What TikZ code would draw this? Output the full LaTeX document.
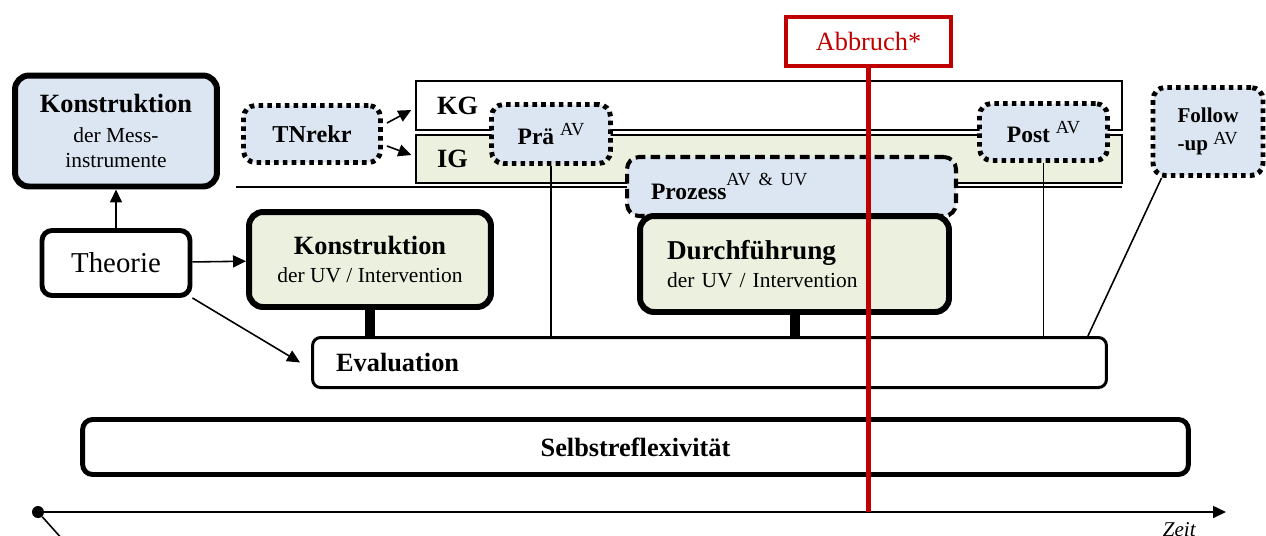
\documentclass[tikz,border=0pt]{standalone}
\usepackage{fontspec}
\setmainfont{Liberation Serif}
\usepackage{tikz}
\usetikzlibrary{positioning,arrows.meta,calc}

\definecolor{kastenblau}{HTML}{DCE6F2}
\definecolor{kastengruen}{HTML}{EBF1DE}
\definecolor{abbruchrot}{HTML}{C00000}

\newcommand{\titel}[1]{{\fontsize{15}{17}\selectfont\bfseries #1}}
\newcommand{\hoch}[2][5pt]{\raisebox{#1}{\normalfont\fontsize{10.5}{12}\selectfont #2}}

\begin{document}
\begin{tikzpicture}[x=0.02cm, y=-0.02cm,
  box/.style={draw, rounded corners=0.2cm, inner sep=0pt, align=center, font=\fontsize{12.2}{14}\selectfont},
  dick/.style={box, line width=3.4pt, rounded corners=0.28cm},
  punktiert/.style={box, fill=kastenblau, line width=2.8pt, rounded corners=0.24cm, dash pattern=on 2.6pt off 2.4pt, font=\fontsize{13.4}{15}\selectfont\bfseries},
  gestrichelt/.style={box, fill=kastenblau, line width=2.3pt, rounded corners=0.24cm, dash pattern=on 5.5pt off 3pt, font=\fontsize{13.4}{15}\selectfont\bfseries},
  gruppe/.style={draw, line width=0.9pt, inner ysep=0pt, inner xsep=0.42cm, text width=13.28cm, align=left, font=\fontsize{15}{17}\selectfont\bfseries},
  faden/.style={line width=0.9pt},
  steg/.style={line width=5.7pt},
  ar/.style={-{Triangle[length=2.6mm,width=2.4mm]}, line width=0.9pt}]

  \useasboundingbox (0,0) rectangle (1266,535);

  % Gruppen KG / IG
  \node[gruppe, minimum height=0.98cm] (kg) at (769,105.5) {KG};
  \node[gruppe, fill=kastengruen, minimum height=0.96cm] (ig) at (769,159) {IG};
  \draw[faden] (236,187) -- (1122,187);

  % Evaluation und Selbstreflexivitaet
  \node[box, line width=1.7pt, rounded corners=0.16cm, align=left, inner xsep=0.47cm, text width=14.94cm, minimum height=1.0cm, font=\fontsize{15}{17}\selectfont\bfseries] (eval) at (709.5,362.5) {Evaluation};
  \node[box, line width=2.8pt, minimum width=22.12cm, minimum height=1.10cm, font=\fontsize{15}{17}\selectfont\bfseries] (selbst) at (635.5,447) {Selbstreflexivität};

  % Konstruktion, Theorie
  \node[dick, fill=kastenblau, minimum width=4.04cm, minimum height=2.22cm] (mess) at (116,131) {\titel{Konstruktion}\\[3pt] der Mess-\\ instrumente};
  \node[box, line width=2.8pt, minimum width=2.96cm, minimum height=1.30cm, font=\fontsize{16.4}{18}\selectfont] (theorie) at (116,263) {Theorie};
  \node[dick, fill=kastengruen, minimum width=4.84cm, minimum height=1.90cm] (kuv) at (370,259.5) {\titel{Konstruktion}\\[2pt] der UV / Intervention};

  % Messzeitpunkte
  \node[punktiert, minimum width=2.74cm, minimum height=1.14cm, font=\fontsize{13.8}{15}\selectfont\bfseries] (tnrekr) at (312,134) {TNrekr};
  \node[punktiert, minimum width=2.38cm, minimum height=1.18cm] (prae) at (551,134) {Prä~\hoch{AV}};
  \node[punktiert, minimum width=2.56cm, minimum height=1.14cm] (post) at (1043.5,132) {Post~\hoch{AV}};
  \node[punktiert, minimum width=2.2cm, minimum height=1.76cm, align=left, font=\fontsize{12}{14}\selectfont\bfseries] (follow) at (1208,131.5) {Follow\\[2pt]-up~\hoch[3.5pt]{AV}};

  \draw[faden] (prae.south) -- (prae.south |- eval.north);
  \draw[faden] (post.south) -- (post.south |- eval.north);
  \draw[faden] (follow.225) -- ($(eval.north east)+(-20,0)$);

  % Prozess und Durchfuehrung
  \node[gestrichelt, align=left, inner xsep=0.48cm, text width=5.62cm, minimum height=1.18cm] (prozess) at (791.5,186.5) {Prozess\hoch[8pt]{AV \& UV}};
  \node[dick, fill=kastengruen, align=left, inner xsep=0.54cm, text width=5.1cm, minimum height=1.92cm] (durch) at (794.5,264) {{\fontsize{15.5}{17}\selectfont\bfseries Durchführung}\\[2pt] der UV / Intervention};

  % Verbindungen
  \draw[ar] (theorie) -- (mess);
  \draw[ar] (theorie) -- (kuv);
  \draw[ar] (theorie.south east) -- ([xshift=-0.22cm]eval.west);
  \draw[ar] ([shift={(0.08cm,0.22cm)}]tnrekr.east) -- ([shift={(-0.08cm,-0.09cm)}]kg.west);
  \draw[ar] ([shift={(0.08cm,-0.24cm)}]tnrekr.east) -- ([shift={(-0.08cm,0.08cm)}]ig.west);
  \draw[steg] (kuv.south) -- (kuv.south |- eval.north);
  \draw[steg] (durch.south) -- (durch.south |- eval.north);

  % Zeitachse
  \node[circle, fill, inner sep=0pt, minimum size=0.24cm] (t0) at (38,512) {};
  \coordinate (tende) at (1226,512);
  \coordinate (t0aus) at (72,550);
  \draw[ar] (t0) -- (tende);
  \draw[faden] (t0) -- (t0aus);
  \node[anchor=north east, inner sep=0pt, font=\fontsize{12}{14}\selectfont\itshape] (zeit) at (1196,522) {Zeit};

  % Abbruch
  \node[draw=abbruchrot, line width=2.3pt, fill=white, text=abbruchrot, inner sep=0pt, minimum width=3.3cm, minimum height=0.98cm, font=\fontsize{15}{17}\selectfont] (abbruch) at (868.5,41.5) {Abbruch*};
  \draw[abbruchrot, line width=2.8pt] (abbruch.south) -- (abbruch.south |- t0);
\end{tikzpicture}
\end{document}
